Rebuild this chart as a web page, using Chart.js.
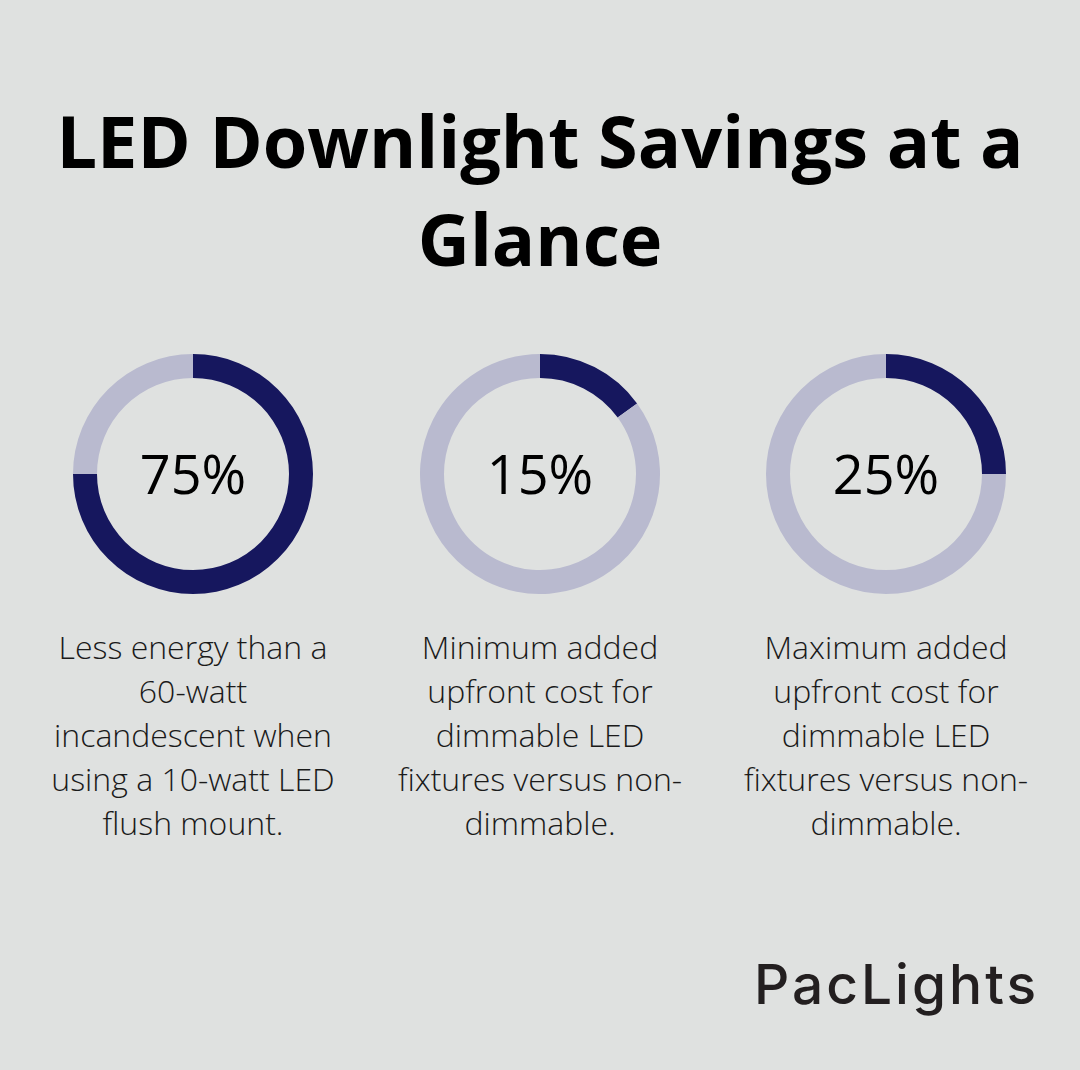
<!DOCTYPE html>
<html>
<head>
<meta charset="utf-8">
<script src="https://cdn.jsdelivr.net/npm/chart.js@4.4.0/dist/chart.umd.min.js"></script>
<style>
  html, body { margin: 0; padding: 0; }
  body { width: 1080px; height: 1070px; background: #dfe1e0; position: relative; overflow: hidden; font-family: "Open Sans", sans-serif; }
  h1 { position: absolute; left: 0; top: 91px; width: 1080px; margin: 0; text-align: center; font-weight: 700; font-size: 72px; line-height: 98px; color: #000; }
  .ring { position: absolute; top: 354px; width: 240px; height: 240px; }
  .pct { position: absolute; top: 441px; width: 240px; text-align: center; font-size: 54px; font-weight: 500; line-height: 64px; color: #000; }
  .desc { position: absolute; top: 625px; width: 360px; text-align: center; font-size: 32px; font-weight: 300; line-height: 44px; color: #1a1a1a; }
  .logo { position: absolute; left: 754px; top: 951px; font-family: "Inter", sans-serif; font-weight: 500; font-size: 55px; letter-spacing: 3px; color: #231f20; }
</style>
</head>
<body>
<h1>LED Downlight Savings at a<br>Glance</h1>

<div class="ring" style="left:73px"><canvas id="ring0"></canvas></div>
<div class="ring" style="left:420px"><canvas id="ring1"></canvas></div>
<div class="ring" style="left:766px"><canvas id="ring2"></canvas></div>

<div class="pct" id="pct0" style="left:73px"></div>
<div class="pct" id="pct1" style="left:420px"></div>
<div class="pct" id="pct2" style="left:766px"></div>

<div class="desc" id="desc0" style="left:13px"></div>
<div class="desc" id="desc1" style="left:360px"></div>
<div class="desc" id="desc2" style="left:706px"></div>

<div class="logo">PacLights</div>

<script>
// values shown in each ring (percent)
var values = [75, 15, 25];
var captions = [
    ['Less energy than a', '60-watt', 'incandescent when', 'using a 10-watt LED', 'flush mount.'],
    ['Minimum added', 'upfront cost for', 'dimmable LED', 'fixtures versus non-', 'dimmable.'],
    ['Maximum added', 'upfront cost for', 'dimmable LED', 'fixtures versus non-', 'dimmable.']
];

var darkColor = '#16175e';
var lightColor = '#b9bacf';

for (var i = 0; i < values.length; i++) {
    document.getElementById('pct' + i).textContent = values[i] + '%';
    document.getElementById('desc' + i).innerHTML = captions[i].join('<br>');

    var ctx = document.getElementById('ring' + i).getContext('2d');
    new Chart(ctx, {
        type: 'doughnut',
        data: {
            labels: ['Value', 'Rest'],
            datasets: [{
                data: [values[i], 100 - values[i]],
                backgroundColor: [darkColor, lightColor],
                borderWidth: 0
            }]
        },
        options: {
            responsive: true,
            maintainAspectRatio: true,
            animation: false,
            cutout: '80%',
            plugins: {
                legend: { display: false },
                tooltip: { enabled: false }
            }
        }
    });
}
</script>
</body>
</html>
